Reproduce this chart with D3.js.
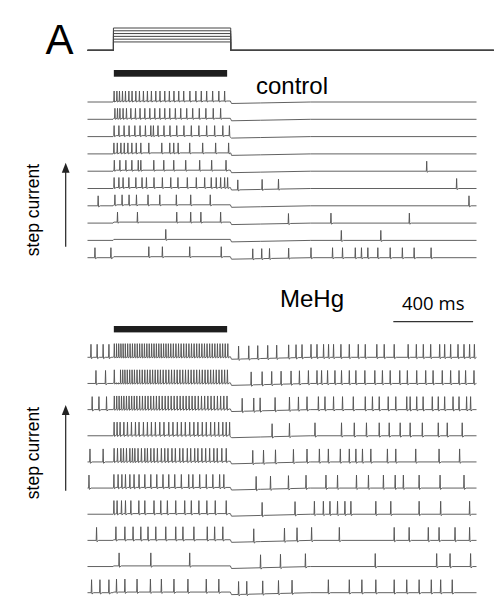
<!DOCTYPE html>
<html>
<head>
<meta charset="utf-8">
<script src="https://cdn.jsdelivr.net/npm/d3@7"></script>
<style>
  body { margin: 0; background: #fff; }
  svg { display: block; font-family: "Liberation Sans", Arial, sans-serif; }
  .trace { fill: none; stroke: #505050; stroke-width: 0.9; stroke-linejoin: round; }
  .stim { fill: none; stroke: #444; stroke-width: 1; }
</style>
</head>
<body>
<svg id="chart" width="500" height="604"></svg>
<script>
// time window of each sweep (ms) and current step
var sweepMs = [0, 1950];
var stepMs = [130, 718];
var barMs = [132, 700];
var stimEndMs = 2037;
var stimLevels = [3, 4, 5, 6, 7, 8];
var scaleBarMs = [1533, 1933];

// spike times (ms), top sweep = largest step current
var controlSpikes = [
  [134, 148, 161, 176, 191, 208, 224, 243, 261, 281, 301, 321, 343, 364, 388, 411, 434, 458, 483, 514, 544, 571, 598, 628, 659, 688],
  [138, 151, 163, 179, 196, 218, 241, 264, 288, 313, 338, 363, 388, 413, 441, 468, 498, 528, 561, 594, 631, 668],
  [134, 158, 184, 209, 238, 264, 291, 318, 331, 354, 384, 414, 448, 484, 521, 559, 598, 638, 679, 712],
  [133, 150, 168, 185, 203, 223, 245, 268, 308, 373, 413, 433, 455, 513, 578, 643, 708],
  [135, 163, 193, 223, 255, 268, 333, 383, 433, 493, 563, 623, 695, 1701],
  [134, 158, 179, 208, 243, 274, 296, 334, 376, 418, 454, 501, 546, 588, 621, 646, 668, 688, 703, 754, 876, 958, 1851],
  [54, 138, 174, 209, 246, 304, 363, 446, 518, 616, 1913],
  [151, 251, 448, 518, 569, 668, 1008, 1221, 1614],
  [393, 1273, 1471],
  [38, 118, 308, 376, 513, 671, 829, 874, 913, 1009, 1121, 1229, 1279, 1343, 1374, 1406, 1456, 1518, 1579, 1638, 1723]
];

var mehgSpikes = [
  [18, 49, 79, 108, 135, 146, 157, 168, 179, 190, 202, 214, 226, 238, 250, 262, 274, 286, 298, 310, 322, 334, 346, 358, 370, 382, 394, 406, 418, 431, 444, 457, 470, 483, 496, 509, 522, 535, 548, 561, 574, 587, 600, 613, 626, 639, 652, 665, 678, 691, 704,
   758, 809, 854, 904, 949, 1009, 1046, 1076, 1121, 1151, 1184, 1209, 1234, 1271, 1313, 1358, 1393, 1451, 1488, 1538, 1608, 1649, 1684, 1721, 1766, 1791, 1821, 1858, 1888, 1916, 1940],
  [43, 91, 135, 145, 155, 166, 177, 188, 200, 212, 224, 236, 249, 262, 275, 288, 301, 314, 327, 340, 353, 366, 380, 394, 408, 422, 436, 450, 464, 478, 492, 506, 520, 534, 548, 562, 576, 590, 604, 618, 632, 646, 660, 674, 688, 702,
   821, 876, 924, 971, 1021, 1063, 1108, 1151, 1174, 1204, 1241, 1274, 1313, 1346, 1391, 1441, 1479, 1518, 1566, 1604, 1651, 1696, 1733, 1779, 1821, 1863, 1896, 1938],
  [24, 58, 96, 135, 147, 159, 171, 183, 196, 209, 222, 235, 248, 262, 276, 290, 304, 318, 332, 346, 360, 375, 390, 405, 420, 435, 450, 465, 480, 495, 510, 525, 540, 556, 572, 588, 604, 620, 636, 652, 668, 684, 700,
   776, 834, 866, 941, 1013, 1058, 1101, 1158, 1191, 1234, 1279, 1333, 1393, 1429, 1463, 1508, 1546, 1601, 1618, 1651, 1683, 1729, 1759, 1791, 1833, 1863, 1901, 1921],
  [134, 149, 164, 183, 201, 221, 241, 259, 281, 301, 321, 341, 363, 384, 408, 429, 451, 471, 491, 513, 534, 554, 576, 596, 618, 638, 658, 679, 696, 713,
   926, 1013, 1141, 1274, 1338, 1399, 1463, 1513, 1568, 1618, 1679, 1759, 1804, 1879],
  [13, 79, 134, 151, 168, 181, 196, 213, 226, 238, 254, 271, 288, 301, 318, 334, 351, 371, 388, 404, 424, 441, 463, 479, 501, 518, 538, 554, 574, 593, 613, 634, 651, 674, 696,
   829, 883, 943, 1033, 1101, 1163, 1208, 1268, 1313, 1346, 1379, 1421, 1504, 1546, 1646, 1763, 1866],
  [8, 133, 154, 173, 191, 213, 234, 259, 288, 318, 348, 379, 408, 438, 471, 508, 529, 563, 596, 629, 663, 684,
   846, 918, 1008, 1096, 1196, 1254, 1349, 1409, 1484, 1543, 1584, 1663, 1768, 1888],
  [133, 149, 171, 191, 218, 258, 288, 334, 368, 401, 443, 488, 521, 559, 599, 641, 696,
   876, 1041, 1138, 1183, 1216, 1254, 1291, 1321, 1446, 1521, 1663, 1771, 1916],
  [46, 143, 188, 229, 268, 304, 343, 393, 443, 479, 534, 601, 638, 679,
   834, 988, 1051, 1124, 1263, 1538, 1613, 1709, 1763, 1843, 1916],
  [159, 318, 513, 868, 968, 1093, 1443, 1751, 1818, 1921],
  [21, 63, 108, 146, 188, 249, 316, 371, 434, 504, 596, 659, 758, 799, 879, 958,
   1026, 1208, 1313, 1376, 1446, 1538, 1601, 1663, 1724, 1771, 1829]
];

var svg = d3.select('#chart');

var x = d3.scaleLinear().domain(sweepMs).range([87.5, 476.5]);
var yStim = d3.scaleLinear().domain([0, 8]).range([50.3, 28]);

// one panel of sweeps
function drawPanel(spikes, yTop, yBottom, amp, stepLift, dip) {
    var yRow = d3.scaleLinear().domain([0, spikes.length - 1]).range([yTop, yBottom]);

    function base(t) {
        if (t < stepMs[0]) return 0;
        if (t <= stepMs[1]) return stepLift;
        return -dip * Math.max(0, 1 - (t - stepMs[1]) / 400);
    }

    spikes.forEach(function (train, i) {
        var groups = [[[sweepMs[0], 0]], [[stepMs[0] - 2, 0]], [[stepMs[0] + 2, 0]],
            [[stepMs[1] - 2, 0]], [[stepMs[1] + 4, 0]], [[stepMs[1] + 150, 0]],
            [[stepMs[1] + 400, 0]], [[sweepMs[1], 0]]];
        train.forEach(function (t) {
            groups.push([[t - 2.5, 0], [t - 0.6, 1], [t + 1.4, -0.1], [t + 10, 0]]);
        });
        groups.sort(function (a, b) { return a[0][0] - b[0][0]; });
        var pts = [], last = -Infinity;
        groups.forEach(function (g) {
            g.forEach(function (p) {
                if (p[0] > last && p[0] <= sweepMs[1]) {
                    pts.push(p);
                    last = p[0];
                }
            });
        });
        var yb = yRow(i);
        var line = d3.line()
            .x(function (d) { return x(d[0]); })
            .y(function (d) { return yb - amp * (base(d[0]) + d[1]); });
        svg.append('path').attr('class', 'trace').attr('d', line(pts));
    });
}

function stepLabel(cy, yTip, yTail) {
    svg.append('text')
        .attr('transform', 'translate(38.5,' + cy + ') rotate(-90)')
        .attr('text-anchor', 'middle')
        .style('font-size', '17.5px')
        .text('step current');
    svg.append('line')
        .attr('x1', 65.7).attr('x2', 65.7)
        .attr('y1', yTail).attr('y2', yTip + 8)
        .attr('stroke', '#222').attr('stroke-width', 1.2);
    svg.append('path')
        .attr('d', 'M65.7,' + yTip + 'L69.6,' + (yTip + 10) + 'L61.8,' + (yTip + 10) + 'Z')
        .attr('fill', '#222');
}

// panel letter
svg.append('text').attr('x', 45.5).attr('y', 54).style('font-size', '42px').text('A');

// stimulus protocol
stimLevels.forEach(function (lv) {
    svg.append('path').attr('class', 'stim')
        .attr('d', 'M' + x(sweepMs[0]) + ',' + yStim(0) + 'H' + x(stepMs[0]) + 'V' + yStim(lv) +
            'H' + x(stepMs[1]) + 'V' + yStim(0) + 'H' + x(stimEndMs));
});

// control
svg.append('rect').attr('x', x(barMs[0])).attr('y', 70)
    .attr('width', x(barMs[1]) - x(barMs[0])).attr('height', 6.7).attr('fill', '#1e1e1e');
svg.append('text').attr('x', 256).attr('y', 94).style('font-size', '24px').text('control');
drawPanel(controlSpikes, 102, 257.7, 10, 0.1, 0.15);
stepLabel(210, 162.7, 246.7);

// MeHg
svg.append('text').attr('x', 280).attr('y', 307.3).style('font-size', '24px').text('MeHg');
svg.append('text').attr('x', (x(scaleBarMs[0]) + x(scaleBarMs[1])) / 2).attr('y', 309.5)
    .attr('text-anchor', 'middle').style('font-size', '18.5px')
    .style('font-family', '"Open Sans", sans-serif').text('400 ms');
svg.append('line')
    .attr('x1', x(scaleBarMs[0])).attr('x2', x(scaleBarMs[1]))
    .attr('y1', 321.7).attr('y2', 321.7)
    .attr('stroke', '#333').attr('stroke-width', 1.3);
svg.append('rect').attr('x', x(barMs[0])).attr('y', 326)
    .attr('width', x(barMs[1]) - x(barMs[0])).attr('height', 6.4).attr('fill', '#1e1e1e');
drawPanel(mehgSpikes, 357.3, 592.7, 13, 0.05, 0.15);
stepLabel(453, 405, 490.7);
</script>
</body>
</html>
